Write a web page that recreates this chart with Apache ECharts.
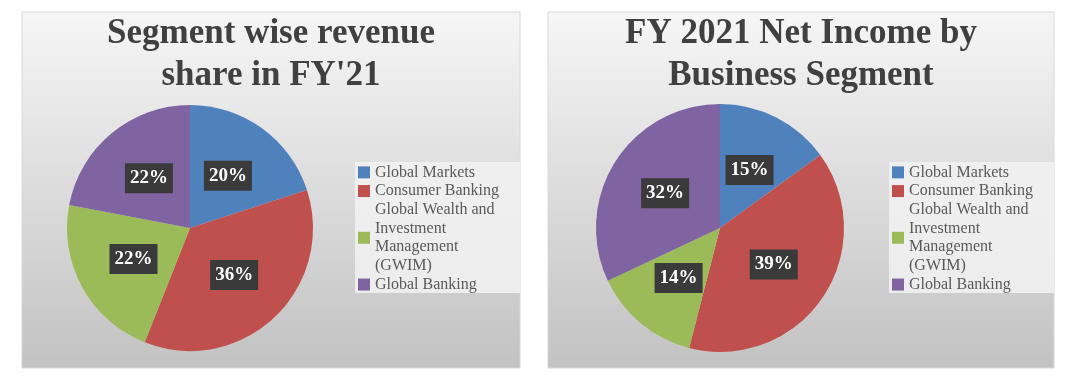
<!DOCTYPE html>
<html>
<head>
<meta charset="utf-8">
<script src="https://cdn.jsdelivr.net/npm/echarts@6/dist/echarts.min.js"></script>
<style>
  html, body { margin: 0; padding: 0; background: #ffffff; }
  #chart { width: 1067px; height: 381px; }
</style>
</head>
<body>
<div id="chart"></div>
<script>
// ---- data ----
const segments = ['Global Markets', 'Consumer Banking', 'Global Wealth and Investment Management (GWIM)', 'Global Banking'];
const legendLabels = ['Global Markets', 'Consumer Banking', 'Global Wealth and\nInvestment\nManagement\n(GWIM)', 'Global Banking'];
const revenueShare = [20, 36, 22, 22];
const netIncomeShare = [15, 39, 14, 32];
const titleLeft = "Segment wise revenue\nshare in FY'21";
const titleRight = 'FY 2021 Net Income by\nBusiness Segment';
const colors = ['#4f81bd', '#c0504d', '#9bbb59', '#8064a2'];

const chart = echarts.init(document.getElementById('chart'), null, { renderer: 'canvas' });

const FONT = 'Liberation Serif';

function panelBg(x, w) {
  return {
    type: 'rect', z: -10, silent: true,
    shape: { x: x, y: 12, width: w, height: 356 },
    style: {
      fill: new echarts.graphic.LinearGradient(0, 0, 0, 1, [
        { offset: 0, color: '#f6f6f6' },
        { offset: 1, color: '#c2c2c2' }
      ]),
      stroke: '#d8d8d8', lineWidth: 1
    }
  };
}
function legendBg(x, w) {
  return {
    type: 'rect', z: -5, silent: true,
    shape: { x: x, y: 162, width: w, height: 131 },
    style: { fill: 'rgba(242,242,242,0.85)' }
  };
}

function pieSeries(values, center, radius) {
  return {
    type: 'pie',
    center: center,
    radius: radius,
    startAngle: 90,
    clockwise: true,
    animation: false,
    emphasis: { disabled: true },
    itemStyle: { borderWidth: 0 },
    label: {
      show: true,
      position: 'inside',
      formatter: '{c}%',
      color: '#ffffff',
      fontFamily: FONT,
      fontWeight: 'bold',
      fontSize: 19,
      backgroundColor: '#3a3a3a',
      padding: [6, 5, 5, 5]
    },
    labelLine: { show: false },
    data: segments.map((name, i) => ({ name: name, value: values[i] }))
  };
}

function legendComp(left) {
  return {
    orient: 'vertical',
    left: left,
    top: 163,
    padding: 0,
    itemGap: 0,
    itemWidth: 12,
    itemHeight: 12,
    icon: 'rect',
    selectedMode: false,
    data: segments,
    formatter: function (name) { return legendLabels[segments.indexOf(name)]; },
    textStyle: { fontFamily: FONT, fontSize: 16, color: '#595959', lineHeight: 18.7 }
  };
}

const titleStyle = { fontFamily: FONT, fontWeight: 'bold', fontSize: 35, color: '#404040', lineHeight: 42 };

chart.setOption({
  animation: false,
  color: colors,
  graphic: [panelBg(22, 498), panelBg(548, 506), legendBg(355, 165), legendBg(889, 165)],
  title: [
    { text: titleLeft, left: 271, top: 13, textAlign: 'center', textStyle: titleStyle, padding: 0 },
    { text: titleRight, left: 801, top: 13, textAlign: 'center', textStyle: titleStyle, padding: 0 }
  ],
  legend: [legendComp(358), legendComp(892)],
  series: [
    pieSeries(revenueShare, [190, 228], 123),
    pieSeries(netIncomeShare, [720, 228], 124)
  ]
});
</script>
</body>
</html>
